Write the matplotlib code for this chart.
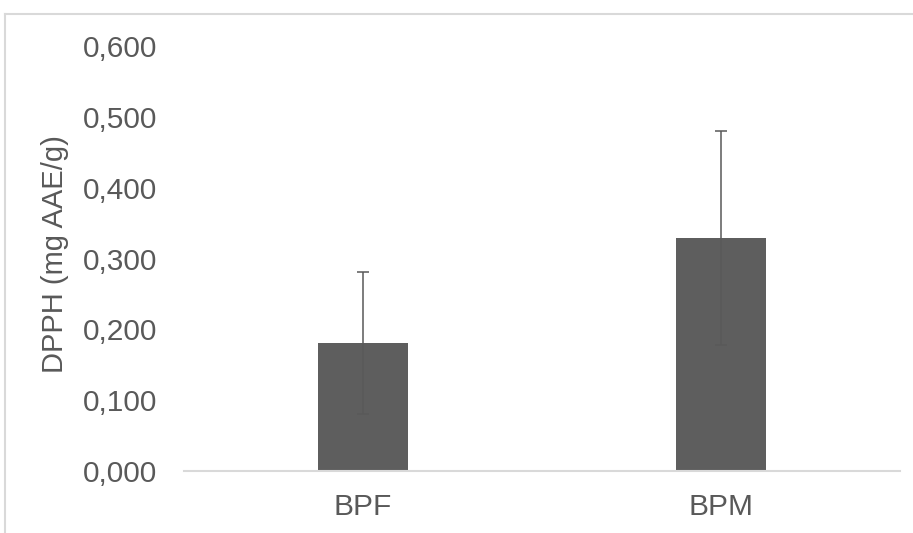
import matplotlib.pyplot as plt
from matplotlib.lines import Line2D
from matplotlib.ticker import FuncFormatter

# data
categories = ["BPF", "BPM"]
values = [0.181, 0.329]
errors = [0.100, 0.151]

plt.rcParams['font.family'] = ['Liberation Sans', 'DejaVu Sans']
text_color = '#595959'
grid_color = '#d9d9d9'

fig = plt.figure(figsize=(9.13, 5.33), dpi=100)
W, H = 913, 533
ax = fig.add_axes([184 / W, 1 - 471 / H, (900 - 184) / W, (471 - 46) / H])

x = range(len(categories))
ax.bar(x, values, width=0.25, color='#5e5e5e', zorder=2)
ax.errorbar(x, values, yerr=errors, fmt='none', ecolor='#595959',
            elinewidth=1.1, capsize=4, capthick=1.1, zorder=3)

ax.set_xlim(-0.5, 1.5)
ax.set_ylim(0, 0.6)
ax.set_yticks([0, 0.1, 0.2, 0.3, 0.4, 0.5, 0.6])
ax.yaxis.set_major_formatter(FuncFormatter(lambda v, p: f"{v:.3f}".replace('.', ',')))
ax.set_xticks(list(x))
ax.set_xticklabels(categories)

for s in ['top', 'right', 'left']:
    ax.spines[s].set_visible(False)
ax.spines['bottom'].set_color(grid_color)
ax.spines['bottom'].set_linewidth(1.5)

ax.tick_params(axis='both', length=0, labelsize=21.5, labelcolor=text_color)
ax.tick_params(axis='y', pad=19)
ax.tick_params(axis='x', pad=16)

ax.set_ylabel("DPPH (mg AAE/g)", fontsize=21, color=text_color)
ax.yaxis.set_label_coords(-(184 - 69) / (900 - 184), (471 - 254) / (471 - 46))

# outer chart frame (partly cropped in the reference)
fig.add_artist(Line2D([5 / W, 1.0], [1 - 14 / H, 1 - 14 / H], color=grid_color, lw=1.5))
fig.add_artist(Line2D([5 / W, 5 / W], [0.0, 1 - 14 / H], color=grid_color, lw=1.5))

fig.savefig("out.png", dpi=100, facecolor='white')
